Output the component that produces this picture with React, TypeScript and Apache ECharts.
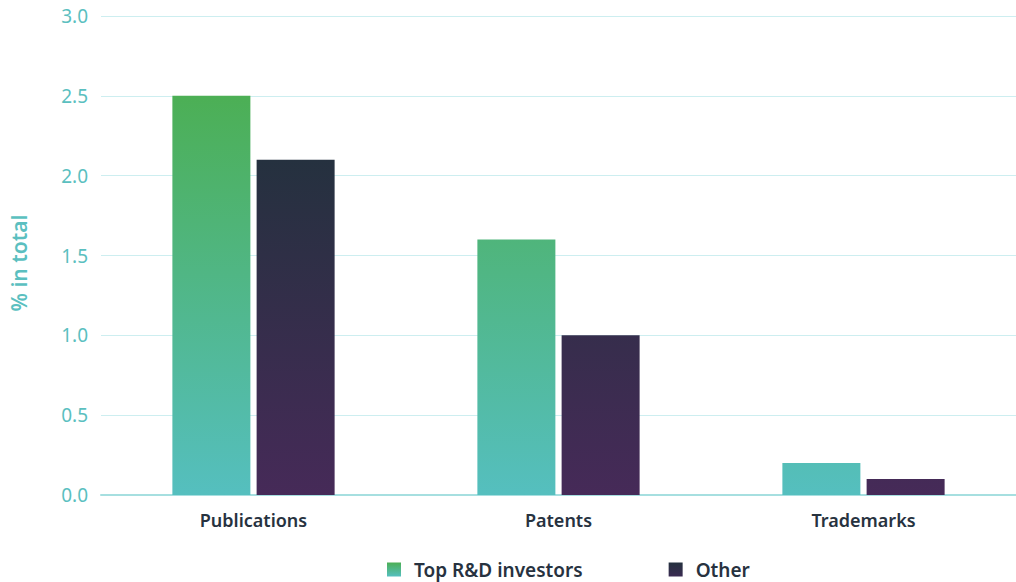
import React, { useEffect, useRef } from "react";
import * as echarts from "echarts";

const categories = ["Publications", "Patents", "Trademarks"];
const topInvestors = [2.5, 1.6, 0.2];
const other = [2.1, 1.0, 0.1];
const yTicks = { min: 0, max: 3, interval: 0.5 };
const seriesNames = ["Top R&D investors", "Other"];
const yAxisTitle = "% in total";

const FONT = "'Noto Sans', 'Open Sans', sans-serif";

export default function App() {
  const ref = useRef<HTMLDivElement>(null);
  useEffect(() => {
    if (!ref.current) return;
    const chart = echarts.init(ref.current, undefined, { renderer: "svg" });
    const greenGrad = new echarts.graphic.LinearGradient(
      0, 96, 0, 495,
      [
        { offset: 0, color: "#4caf55" },
        { offset: 1, color: "#55bfbf" },
      ],
      true
    );
    const darkGrad = new echarts.graphic.LinearGradient(
      0, 160, 0, 495,
      [
        { offset: 0, color: "#25313f" },
        { offset: 1, color: "#462a58" },
      ],
      true
    );
    chart.setOption({
      animation: false,
      textStyle: { fontFamily: FONT },
      grid: { left: 101, right: 0, top: 16, bottom: 87, containLabel: false },
      graphic: [
        {
          type: "text",
          x: 19,
          y: 263,
          rotation: Math.PI / 2,
          style: {
            text: yAxisTitle,
            fill: "#5bbfc0",
            font: `600 21px ${FONT}`,
            textAlign: "center",
            textVerticalAlign: "middle",
          },
        },
      ],
      legend: {
        left: 387,
        top: 560,
        padding: 0,
        itemWidth: 14,
        itemHeight: 14,
        itemGap: 86,
        icon: "rect",
        textStyle: { fontSize: 19, color: "#27323f", fontWeight: 600, fontFamily: FONT, padding: [0, 0, 0, 8], lineHeight: 16 },
        data: [
          {
            name: seriesNames[0],
            itemStyle: {
              color: new echarts.graphic.LinearGradient(0, 0, 0, 1, [
                { offset: 0, color: "#4caf55" },
                { offset: 1, color: "#55bfbf" },
              ]),
            },
          },
          {
            name: seriesNames[1],
            itemStyle: {
              color: new echarts.graphic.LinearGradient(0, 0, 0, 1, [
                { offset: 0, color: "#25313f" },
                { offset: 1, color: "#3a2b52" },
              ]),
            },
          },
        ],
      },
      xAxis: {
        type: "category",
        data: categories,
        axisLine: { show: true, lineStyle: { color: "#a6dfe0", width: 2 } },
        axisTick: { show: false },
        axisLabel: { fontSize: 18, color: "#27323f", fontWeight: 600, margin: 16, fontFamily: FONT },
      },
      yAxis: {
        type: "value",
        min: yTicks.min,
        max: yTicks.max,
        interval: yTicks.interval,
        axisLine: { show: false },
        axisTick: { show: false },
        splitLine: { lineStyle: { color: "#cdeef0", width: 1 } },
        axisLabel: {
          fontSize: 19,
          color: "#5bbfc0",
          margin: 13,
          formatter: (v: number) => v.toFixed(1),
          fontFamily: FONT,
        },
      },
      series: [
        {
          name: seriesNames[0],
          type: "bar",
          data: topInvestors,
          barWidth: 78,
          barGap: "8%",
          itemStyle: { color: greenGrad },
        },
        {
          name: seriesNames[1],
          type: "bar",
          data: other,
          barWidth: 78,
          itemStyle: { color: darkGrad },
        },
      ],
    });
    return () => chart.dispose();
  }, []);
  return <div ref={ref} style={{ width: 1016, height: 582, position: "absolute", left: 0, top: 0 }} />;
}
